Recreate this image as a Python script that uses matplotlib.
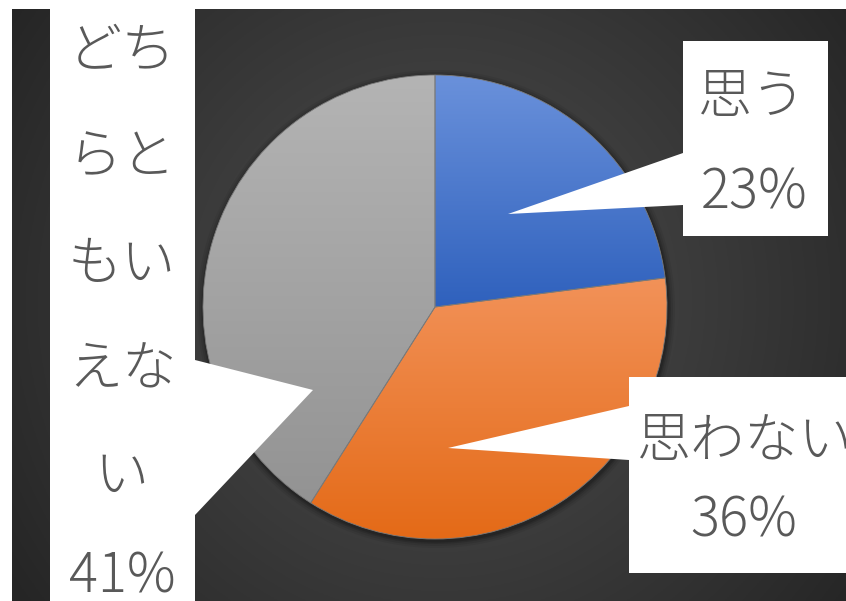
import numpy as np
import matplotlib
matplotlib.use('Agg')
import matplotlib.pyplot as plt
from matplotlib.patches import Polygon, Circle
from matplotlib.colors import to_rgb

plt.rcParams['font.family'] = ['Noto Sans CJK JP', 'DejaVu Sans']

# ---- data ----
categories = ['思う', '思わない', 'どちらともいえない']
values = [23, 36, 41]
label_wraps = [['思う'], ['思わない'], ['どち', 'らと', 'もい', 'えな', 'い']]
grad_top = ['#6A91DB', '#F29259', '#B4B4B4']
grad_bot = ['#2F61BD', '#E46A17', '#939393']

W, H = 846, 601
fig = plt.figure(figsize=(W / 100, H / 100), dpi=100, facecolor='white')
ax = fig.add_axes([0, 0, 1, 1])
ax.axis('off')


def Y(py):
    return H - py


# ---- background (radial gradient) ----
x0, x1, ytop, ybot = 12, W, 9, H
xs = np.linspace(x0, x1, 420)
ys = np.linspace(ytop, ybot, 300)
XX, YY = np.meshgrid(xs, ys)
cx, cy = 440, 300
r = np.hypot(XX - cx, YY - cy)
t = np.clip(r / 520, 0, 1) ** 1.2
c_in = np.array(to_rgb('#4b4b4b'))
c_out = np.array(to_rgb('#252525'))
img = c_in * (1 - t[..., None]) + c_out * t[..., None]
ax.imshow(img, extent=(x0, x1, Y(ybot), Y(ytop)), origin='upper',
          aspect='auto', zorder=0)

# ---- pie ----
center = (435, Y(307))
R = 232
for k, a in [(7, 0.06), (5, 0.08), (3, 0.12), (1.5, 0.15)]:
    ax.add_patch(Circle((center[0] + 1, center[1] - 2), R + k, color='black',
                        alpha=a, lw=0, zorder=1))

wedges, _ = ax.pie(values, startangle=90, counterclock=False,
                   center=center, radius=R, frame=True,
                   wedgeprops=dict(edgecolor='#7a7a7a', linewidth=0.6))
for w, ct, cb in zip(wedges, grad_top, grad_bot):
    bb = w.get_path().get_extents()
    g = np.linspace(0, 1, 256)[:, None, None]
    grad = np.array(to_rgb(ct)) * (1 - g) + np.array(to_rgb(cb)) * g
    im = ax.imshow(grad, extent=(bb.x0, bb.x1, bb.y0, bb.y1), origin='upper',
                   aspect='auto', zorder=2.5)
    im.set_clip_path(w)
    w.set_facecolor('none')
    w.set_zorder(3)

# ---- callouts ----
txt_color = '#595959'
fs = 39
fw = 'light'

def callout(pts):
    ax.add_patch(Polygon([(x, Y(y)) for x, y in pts], closed=True,
                         facecolor='white', edgecolor='none', zorder=4))

# 思う
callout([(683, 41), (828, 41), (828, 236), (683, 236), (683, 205),
         (508, 214), (683, 153)])
# 思わない
callout([(629, 377), (870, 377), (870, 573), (629, 573), (629, 460),
         (448, 448), (629, 406)])
# どちらともいえない
callout([(50, 0), (195, 0), (195, 360), (313, 390), (195, 515),
         (195, 610), (50, 610)])

pcts = [f'{v}%' for v in values]
kw = dict(ha='center', va='center', fontsize=fs, color=txt_color,
          fontweight=fw, zorder=5)

# label 1
ax.text(752, Y(97), label_wraps[0][0], **kw)
ax.text(754, Y(193), pcts[0], **kw)
# label 2
ax.text(745, Y(441), label_wraps[1][0], **kw)
ax.text(744, Y(521), pcts[1], **kw)
# label 3
for i, s in enumerate(label_wraps[2]):
    ax.text(122, Y(52 + 106 * i), s, **kw)
ax.text(122, Y(577), pcts[2], **kw)

ax.set_xlim(0, W)
ax.set_ylim(0, H)
ax.set_aspect('auto')
fig.savefig('out.png', dpi=100, facecolor='white')
